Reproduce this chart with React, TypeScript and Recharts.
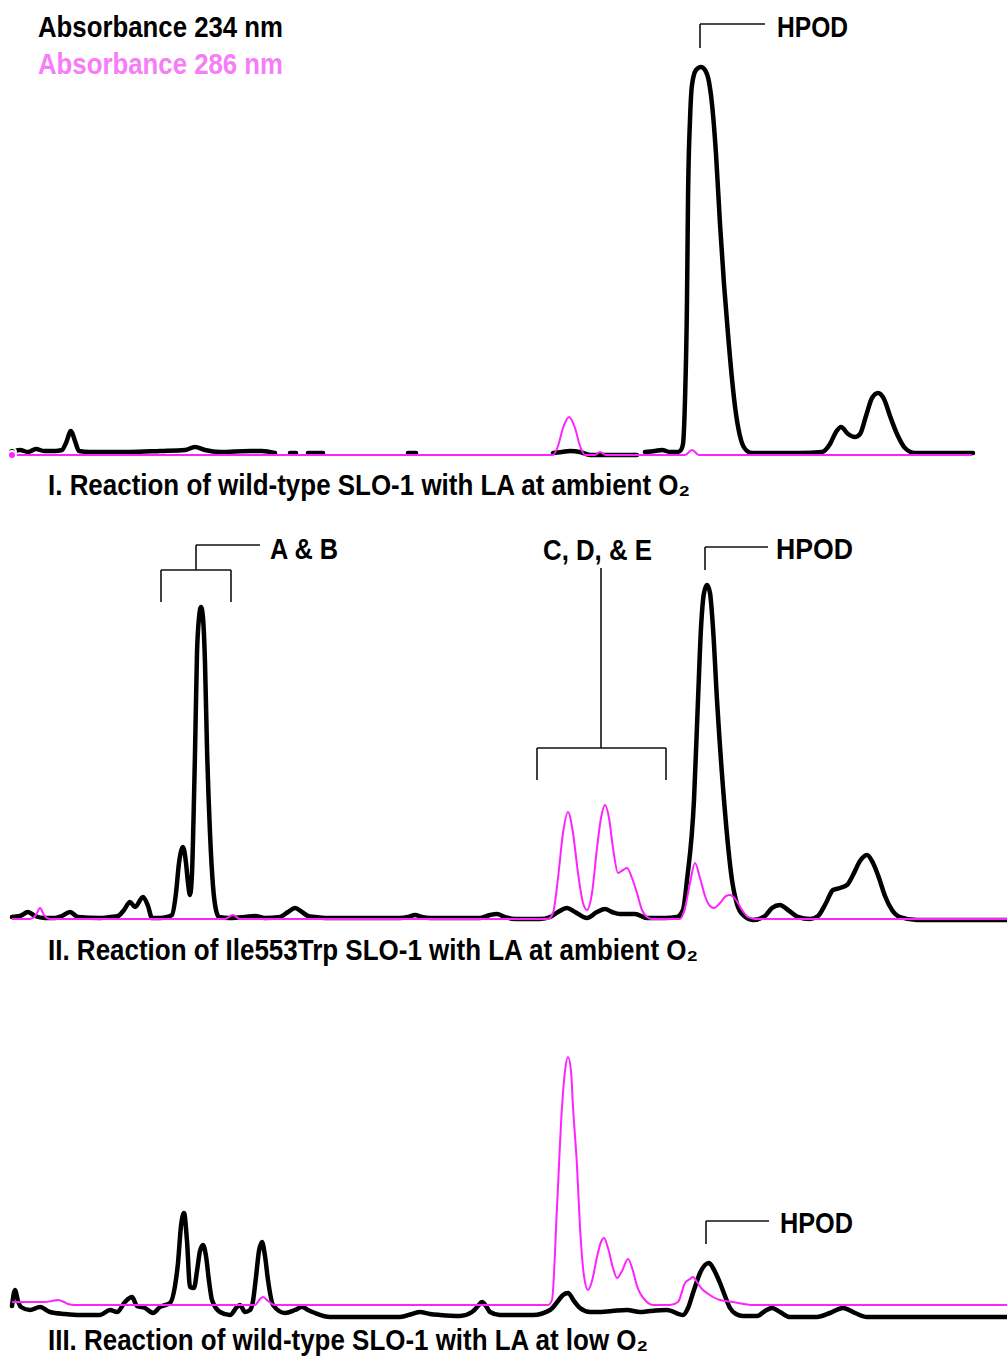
import React from "react";
import { LineChart, Line, XAxis, YAxis, ReferenceLine } from "recharts";

type Pt = [number, number | null];

// Retention position (arbitrary units) vs absorbance (arbitrary units)
// Panel I: wild-type SLO-1, LA, ambient O2
const p1Abs234: Pt[] = [
  [12, 2], [20, 4], [28, 2], [36, 5], [44, 3], [55, 3], [62, 4], [66, 11], [71, 23], [75, 13], [79, 3],
  [90, 2], [130, 2], [160, 3], [185, 4], [195, 7], [205, 4], [220, 2], [250, 3], [262, 3], [275, 1],
  [280, null], [290, 1], [296, 1], [300, null], [308, 1], [323, 1], [330, null], [408, 1], [416, 1], [420, null],
  [553, 1], [562, 2], [570, 3], [580, 2], [590, -1], [637, -1], [641, null],
  [645, 2], [655, 3], [662, 4], [670, 2], [678, 2], [681, 4], [683, 10], [685, 54], [687, 154], [688, 254],
  [690, 334], [692, 369], [696, 384], [701, 387], [705, 384], [709, 372], [712, 350], [716, 300],
  [720, 230], [724, 170], [728, 120], [732, 75], [736, 40], [741, 14], [746, 4], [752, 1], [800, 1],
  [822, 2], [830, 10], [836, 22], [841, 27], [848, 20], [855, 17], [860, 20], [866, 38], [872, 56],
  [878, 61], [884, 55], [890, 38], [897, 20], [905, 6], [915, 1], [940, 1], [973, 1],
];
const p1Abs286: Pt[] = [
  [12, -1], [553, -1], [558, 8], [563, 26], [569, 37], [575, 26], [580, 8], [585, -1], [595, -1], [600, 2],
  [606, -1], [685, -1], [692, 4], [699, -1], [972, -1],
];

// Panel II: Ile553Trp SLO-1, LA, ambient O2
const p2Abs234: Pt[] = [
  [12, 1], [20, 2], [28, 6], [35, 2], [45, 0], [55, 0], [62, 2], [70, 6], [78, 1], [100, 0], [110, 1],
  [118, 2], [124, 8], [130, 16], [135, 11], [143, 21], [148, 12], [152, 0], [160, 0], [167, 1], [172, 3],
  [176, 25], [179, 55], [183, 71], [186, 55], [188, 35], [190, 23], [192, 45], [194, 120], [195, 165],
  [197, 265], [199, 300], [201, 311], [203, 300], [205, 255], [207, 170], [210, 85], [213, 32], [216, 8],
  [219, 1], [230, 0], [245, 1], [255, 2], [265, 0], [280, 1], [288, 6], [295, 10], [302, 6], [308, 2],
  [315, 1], [325, 0], [400, 0], [408, 1], [415, 3], [422, 1], [430, 0], [480, 0], [490, 3], [497, 4],
  [505, 1], [515, -1], [540, -1], [550, 1], [558, 6], [567, 10], [575, 6], [587, 0], [597, 6], [605, 9],
  [612, 6], [620, 4], [635, 4], [647, 0], [665, 0], [677, 1], [683, 8], [687, 38], [694, 118], [698, 218],
  [701, 290], [704, 325], [707, 333], [710, 325], [713, 290], [717, 218], [724, 118], [732, 38], [737, 14],
  [743, 3], [753, -2], [765, 2], [772, 10], [780, 13], [788, 8], [798, 1], [810, -1], [818, 2], [826, 15],
  [833, 28], [840, 30], [847, 33], [853, 43], [860, 57], [867, 63], [873, 55], [879, 40], [885, 22],
  [892, 8], [900, 1], [917, -2], [1007, -2],
];
const p2Abs286: Pt[] = [
  [12, -1], [30, -1], [36, 3], [40, 10], [44, 3], [50, -1], [225, -1], [233, 3], [240, -1], [548, -1],
  [553, 5], [558, 40], [563, 85], [568, 106], [573, 85], [578, 45], [583, 15], [587, 8], [592, 25],
  [597, 70], [601, 100], [605, 113], [609, 100], [613, 70], [618, 45], [623, 48], [627, 50], [632, 40],
  [637, 25], [642, 8], [647, 1], [652, -1], [680, -1], [685, 10], [690, 35], [695, 55], [700, 40],
  [705, 22], [710, 12], [714, 10], [720, 15], [726, 22], [730, 23], [736, 18], [742, 8], [748, 1],
  [755, -1], [1007, -1],
];

// Panel III: wild-type SLO-1, LA, low O2
const p3Abs234: Pt[] = [
  [12, 10], [15, 26], [18, 15], [21, 9], [30, 6], [40, 9], [50, 4], [65, 2], [80, 1], [100, 1], [110, 6],
  [117, 4], [125, 14], [132, 19], [137, 10], [145, 8], [153, 3], [160, 9], [170, 13], [175, 30], [178, 53],
  [181, 90], [184, 103], [187, 75], [190, 29], [194, 28], [197, 45], [200, 65], [203, 71], [206, 60],
  [209, 35], [212, 16], [220, 4], [230, 1], [237, 9], [240, 11], [245, 4], [250, 6], [253, 15], [256, 39],
  [259, 65], [262, 74], [265, 60], [268, 36], [273, 11], [285, 3], [295, 6], [302, 9], [308, 6], [315, 3],
  [330, -1], [400, -1], [412, 2], [420, 4], [430, 2], [440, 1], [460, 0], [472, 4], [478, 10], [482, 14],
  [486, 10], [490, 4], [500, 1], [533, 1], [550, 6], [558, 15], [563, 21], [568, 23], [574, 15], [580, 8],
  [590, 4], [597, 4], [612, 5], [627, 6], [640, 4], [650, 5], [667, 6], [683, 1], [688, 8], [693, 23],
  [697, 35], [700, 43], [705, 51], [709, 53], [713, 48], [717, 40], [720, 33], [725, 20], [730, 8],
  [736, 2], [743, 0], [757, 0], [765, 5], [772, 8], [780, 4], [790, -1], [817, -1], [830, 3], [843, 8],
  [855, 3], [867, -1], [1007, -1],
];
const p3Abs286: Pt[] = [
  [12, 14], [30, 14], [45, 14], [52, 15], [58, 16], [64, 14], [68, 12], [75, 11], [255, 11], [260, 17],
  [263, 19], [268, 15], [275, 11], [548, 11], [552, 16], [557, 109], [562, 209], [565, 245], [568, 259],
  [571, 245], [573, 209], [577, 150], [580, 89], [584, 40], [588, 26], [592, 35], [597, 59], [601, 74],
  [604, 78], [608, 68], [613, 48], [617, 38], [622, 45], [628, 57], [633, 45], [637, 30], [640, 23],
  [646, 15], [653, 11], [670, 11], [678, 14], [685, 33], [690, 37], [693, 39], [697, 34], [702, 27],
  [707, 23], [713, 19], [720, 16], [733, 14], [753, 11], [790, 11], [1007, 11],
];

const legendLabels = ["Absorbance 234 nm", "Absorbance 286 nm"];
const panelTitles = [
  "I. Reaction of wild-type SLO-1 with LA at ambient O\u2082",
  "II. Reaction of Ile553Trp SLO-1 with LA at ambient O\u2082",
  "III. Reaction of wild-type SLO-1 with LA at low O\u2082",
];
const peakLabels = ["HPOD", "A & B", "C, D, & E"];

const BLACK = "#000000";
const MAGENTA = "#ff22ff";
const LEGEND_PINK = "#f77cf7";
const FONT = "'Liberation Sans', Arial, Helvetica, 'DejaVu Sans', sans-serif";

const toData = (pts: Pt[]) => pts.map(([x, y]) => ({ x, y }));

type Seg = [number, number, number, number];

function Panel(props: {
  top: number;
  height: number;
  domain: [number, number];
  abs234: Pt[];
  abs286: Pt[];
  brackets: Seg[];
}) {
  const { top, height, domain, abs234, abs286, brackets } = props;
  return (
    <div style={{ position: "absolute", left: 0, top, width: 1007, height }}>
      <LineChart width={1007} height={height} margin={{ top: 0, right: 0, bottom: 0, left: 0 }}>
        <XAxis type="number" dataKey="x" domain={[0, 1007]} hide />
        <YAxis type="number" domain={domain} hide />
        {brackets.map((s, i) => (
          <ReferenceLine
            key={i}
            segment={[{ x: s[0], y: s[1] }, { x: s[2], y: s[3] }]}
            stroke="#111"
            strokeWidth={1.6}
            ifOverflow="visible"
          />
        ))}
        <Line
          data={toData(abs234)}
          dataKey="y"
          type="monotone"
          stroke={BLACK}
          strokeWidth={4.5}
          strokeLinejoin="round"
          strokeLinecap="round"
          dot={false}
          connectNulls={false}
          isAnimationActive={false}
        />
        <Line
          data={toData(abs286)}
          dataKey="y"
          type="monotone"
          stroke={MAGENTA}
          strokeWidth={2}
          dot={false}
          connectNulls={false}
          isAnimationActive={false}
        />
      </LineChart>
    </div>
  );
}

function T(props: { x: number; y: number; size: number; len: number; fill?: string; children: string }) {
  return (
    <text
      x={props.x}
      y={props.y}
      fontSize={props.size}
      fontWeight="bold"
      fontFamily={FONT}
      fill={props.fill || "#000"}
      textLength={props.len}
      lengthAdjust="spacingAndGlyphs"
    >
      {props.children}
    </text>
  );
}

export default function App() {
  return (
    <div
      style={{
        position: "absolute",
        left: 0,
        top: 0,
        width: 1007,
        height: 1358,
        background: "#fff",
        overflow: "hidden",
      }}
    >
      <Panel
        top={0}
        height={470}
        domain={[-16, 454]}
        abs234={p1Abs234}
        abs286={p1Abs286}
        brackets={[
          [700, 406, 700, 430],
          [700, 430, 765, 430],
        ]}
      />
      <Panel
        top={500}
        height={440}
        domain={[-22, 418]}
        abs234={p2Abs234}
        abs286={p2Abs286}
        brackets={[
          [161, 348, 231, 348],
          [161, 348, 161, 316],
          [231, 348, 231, 316],
          [196, 348, 196, 373],
          [196, 373, 260, 373],
          [601, 350, 601, 170],
          [537, 170, 666, 170],
          [537, 170, 537, 138],
          [666, 170, 666, 138],
          [705, 348, 705, 371],
          [705, 371, 768, 371],
        ]}
      />
      <Panel
        top={1000}
        height={358}
        domain={[-42, 316]}
        abs234={p3Abs234}
        abs286={p3Abs286}
        brackets={[
          [706, 72, 706, 95],
          [706, 95, 769, 95],
        ]}
      />
      <svg
        width={1007}
        height={1358}
        style={{ position: "absolute", left: 0, top: 0, pointerEvents: "none" }}
      >
        <T x={38} y={37} size={29} len={245}>{legendLabels[0]}</T>
        <T x={38} y={74} size={29} len={245} fill={LEGEND_PINK}>{legendLabels[1]}</T>

        <T x={777} y={37} size={30} len={71}>{peakLabels[0]}</T>
        <T x={270} y={559} size={30} len={68}>{peakLabels[1]}</T>
        <T x={543} y={560} size={29} len={109}>{peakLabels[2]}</T>
        <T x={776} y={559} size={30} len={77}>{peakLabels[0]}</T>
        <T x={780} y={1233} size={30} len={73}>{peakLabels[0]}</T>

        <T x={48} y={495} size={29} len={642}>{panelTitles[0]}</T>
        <T x={48} y={960} size={29} len={650}>{panelTitles[1]}</T>
        <T x={48} y={1350} size={29} len={600}>{panelTitles[2]}</T>
      </svg>
    </div>
  );
}
